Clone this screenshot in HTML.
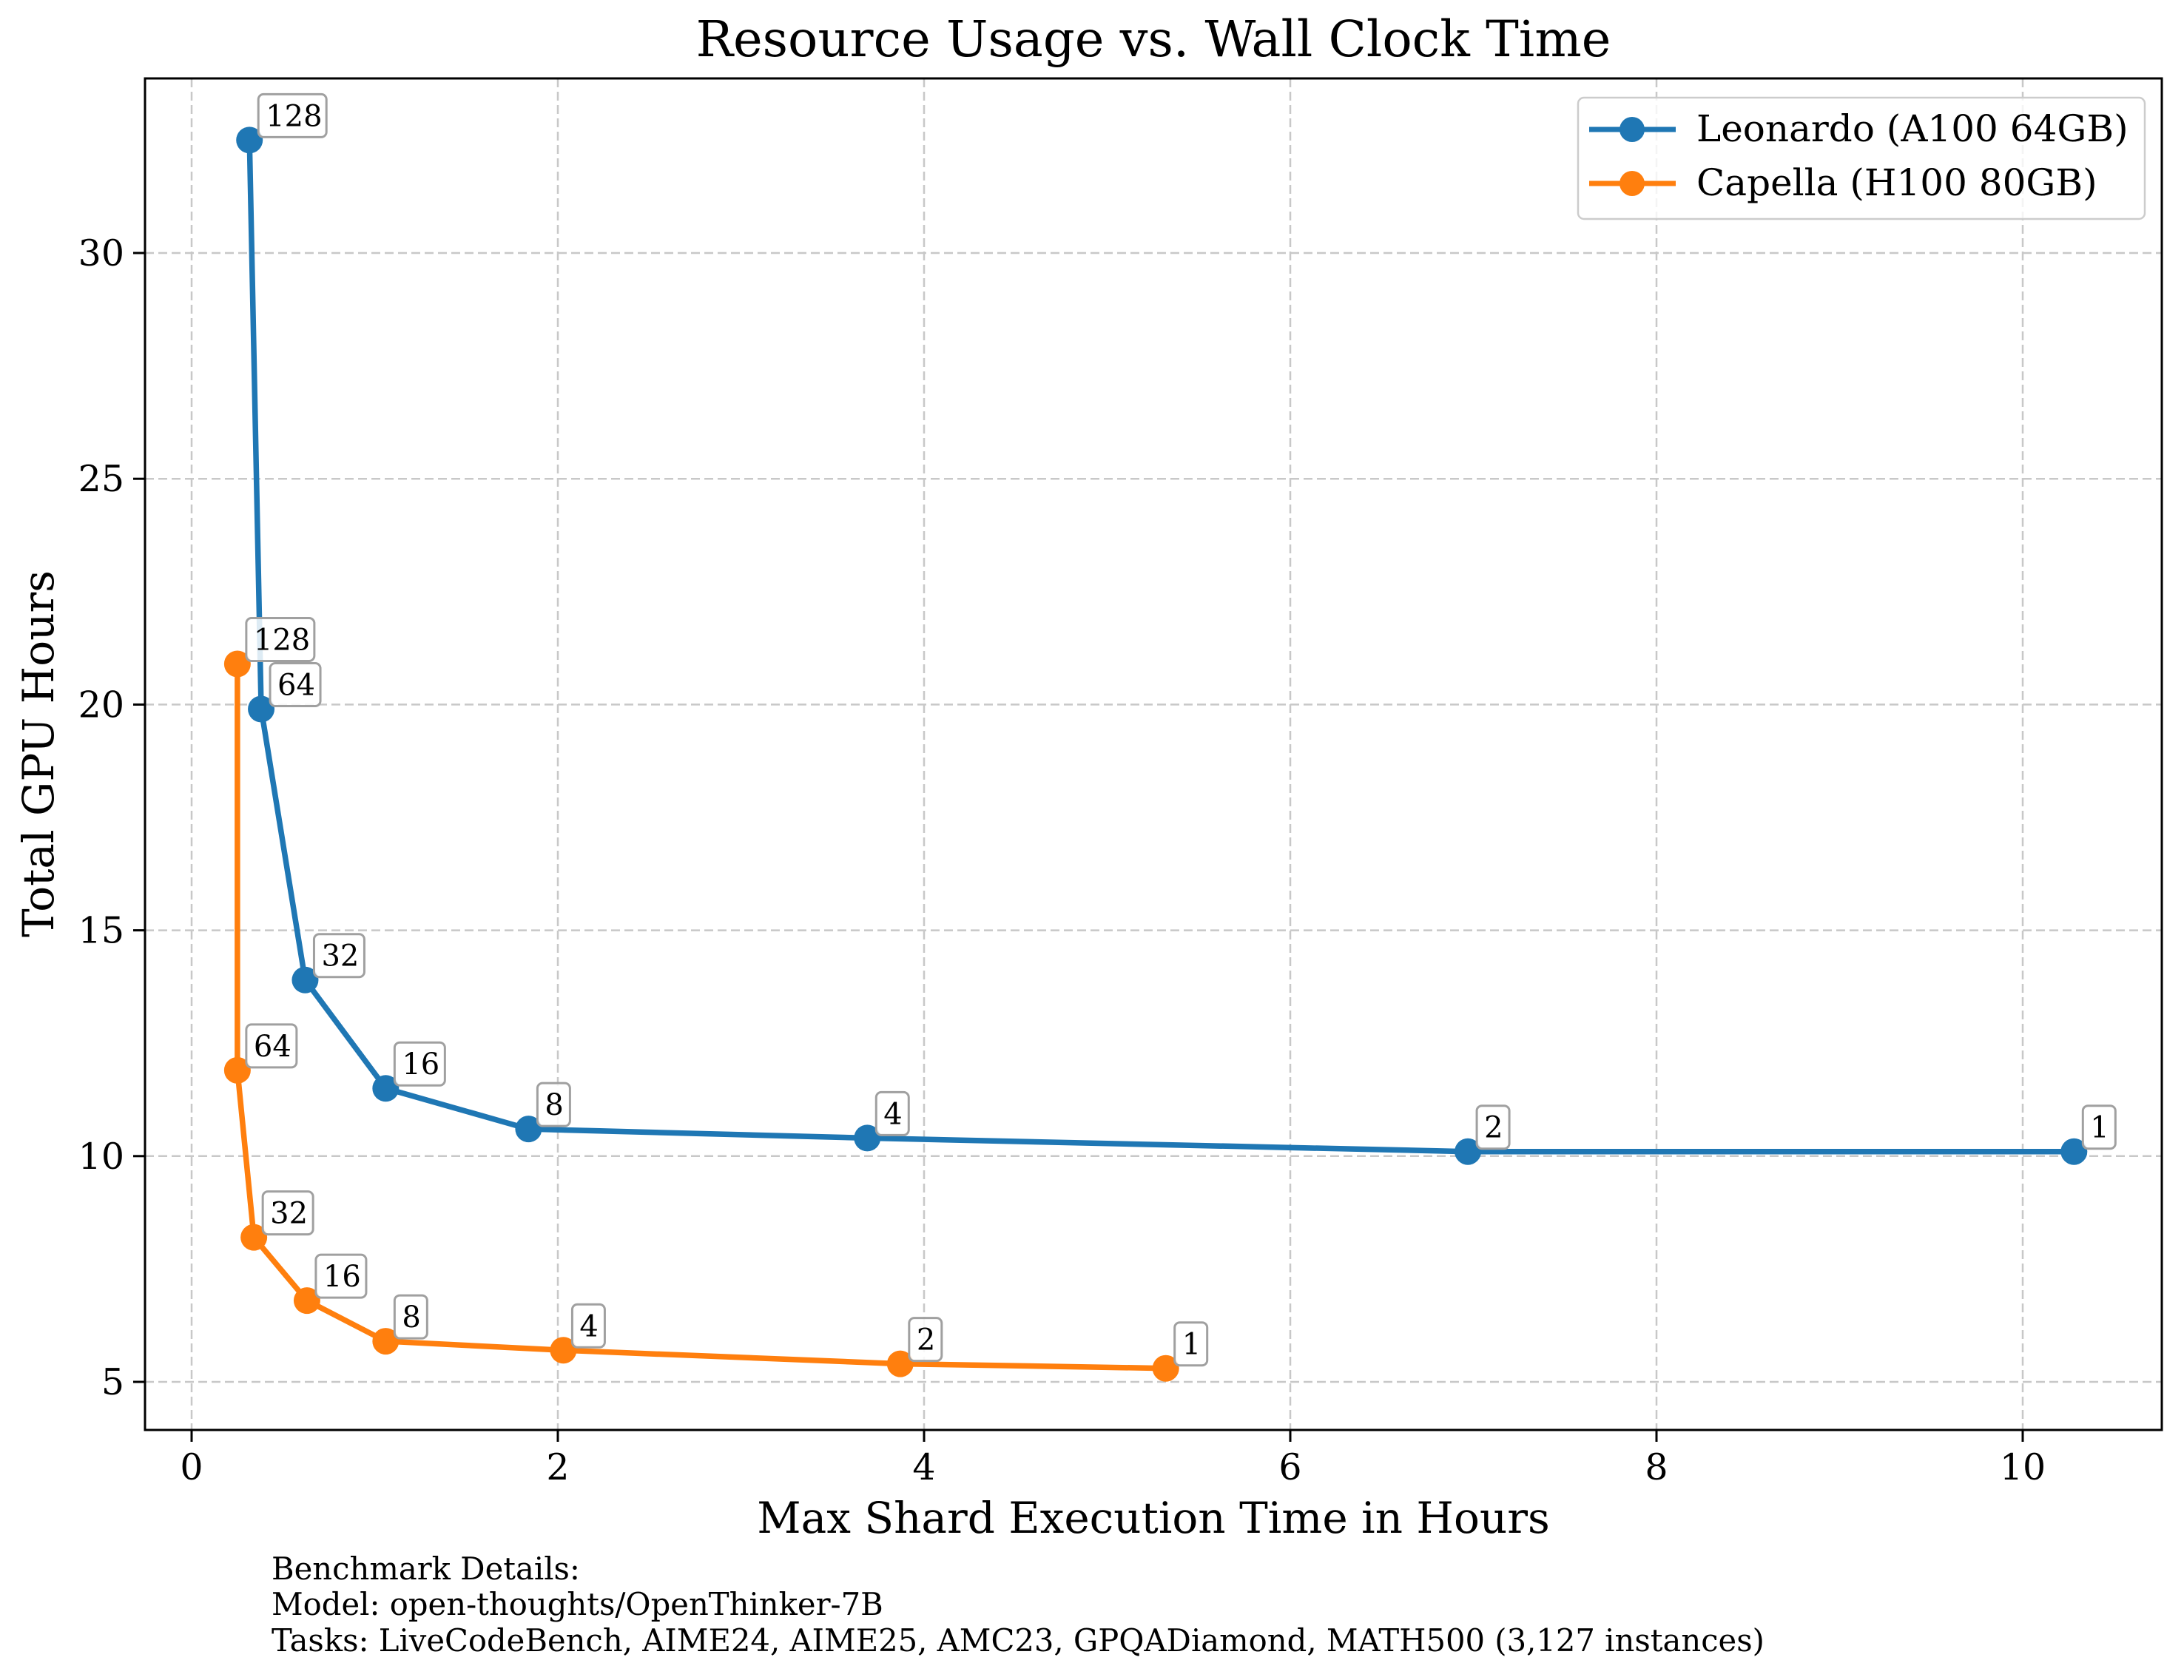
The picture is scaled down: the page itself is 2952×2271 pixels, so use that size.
<!DOCTYPE html>
<html><head><meta charset="utf-8"><style>
html,body{margin:0;padding:0;background:#fff;}
svg{display:block;font-family:"DejaVu Serif","Liberation Serif",serif;}
</style></head><body>
<svg id="chart" width="2952" height="2271" viewBox="0 0 2952 2271" xmlns="http://www.w3.org/2000/svg">
<rect width="2952" height="2271" fill="#fff"/>
<g id="grid"></g>
<g id="series"></g>
<rect x="196" y="106" width="2726" height="1827" fill="none" stroke="#000" stroke-width="3"/>
<g id="ticks"></g>
<text x="1559" y="76" font-size="67" text-anchor="middle">Resource Usage vs. Wall Clock Time</text>
<text x="1559" y="2072" font-size="58" text-anchor="middle">Max Shard Execution Time in Hours</text>
<text x="0" y="0" font-size="58" text-anchor="middle" transform="translate(72,1019) rotate(-90)">Total GPU Hours</text>
<g font-size="41.7">
<text x="367" y="2135">Benchmark Details:</text>
<text x="367" y="2183">Model: open-thoughts/OpenThinker-7B</text>
<text x="367" y="2232">Tasks: LiveCodeBench, AIME24, AIME25, AMC23, GPQADiamond, MATH500 (3,127 instances)</text>
</g>
<g>
<rect x="2133" y="132" width="766" height="164" rx="8" fill="#fff" fill-opacity="0.8" stroke="#ccc" stroke-width="2.5"/>
<g>
<line x1="2148" y1="175" x2="2265" y2="175" stroke="#1f77b4" stroke-width="7"/>
<circle cx="2206" cy="175" r="17" fill="#1f77b4"/>
<text x="2293" y="191" font-size="50">Leonardo (A100 64GB)</text></g>
<g>
<line x1="2148" y1="248" x2="2265" y2="248" stroke="#ff7f0e" stroke-width="7"/>
<circle cx="2206" cy="248" r="17" fill="#ff7f0e"/>
<text x="2293" y="264" font-size="50">Capella (H100 80GB)</text></g>
</g>
</svg>
<script>
const nodeLabels = ["128","64","32","16","8","4","2","1"];
const leoX = [0.316,0.38,0.62,1.06,1.84,3.69,6.97,10.28];
const leoY = [32.5,19.9,13.9,11.5,10.6,10.4,10.1,10.1];
const capX = [0.25,0.25,0.34,0.63,1.06,2.03,3.87,5.32];
const capY = [20.9,11.9,8.2,6.8,5.9,5.7,5.4,5.3];
const xTicks = [0,2,4,6,8,10];
const yTicks = [5,10,15,20,25,30];

const NS="http://www.w3.org/2000/svg";
const xs = v => 259 + v*247.5;
const ys = v => 1868 - (v-5)*61.04;
function mk(tag, attrs, parent){const e=document.createElementNS(NS,tag);for(const k in attrs)e.setAttribute(k,attrs[k]);parent.appendChild(e);return e;}
const grid=document.getElementById('grid'), ticks=document.getElementById('ticks'), series=document.getElementById('series');
xTicks.forEach(t=>{
  const x=xs(t);
  const g=mk('line',{x1:x,y1:106,x2:x,y2:1933,stroke:'#c8c8c8','stroke-width':2.5,'stroke-dasharray':'12,6'},grid);
  
  
  mk('line',{x1:x,y1:1933,x2:x,y2:1949,stroke:'#000','stroke-width':3},ticks);
  const l=mk('text',{x:x,y:2000,'font-size':49,'text-anchor':'middle'},ticks);
  l.textContent=t;
  
  
});
yTicks.forEach(t=>{
  const y=ys(t);
  const g=mk('line',{x1:196,y1:y,x2:2922,y2:y,stroke:'#c8c8c8','stroke-width':2.5,'stroke-dasharray':'12,6'},grid);
  
  
  mk('line',{x1:180,y1:y,x2:196,y2:y,stroke:'#000','stroke-width':3},ticks);
  const l=mk('text',{x:168,y:y+17,'font-size':49,'text-anchor':'end'},ticks);
  l.textContent=t;
  
  
});
function drawSeries(X,Y,color,name){
  const g=mk('g',{},series);
  
  
  const pts=X.map((v,i)=>xs(v)+','+ys(Y[i])).join(' ');
  const pl=mk('polyline',{points:pts,fill:'none',stroke:color,'stroke-width':7.5,'stroke-linejoin':'round'},g);
  
  
  X.forEach((v,i)=>{
    const cx=xs(v), cy=ys(Y[i]);
    const c=mk('circle',{cx:cx,cy:cy,r:18,fill:color},g);
    
    
    const lab=nodeLabels[i];
    const w=24*lab.length+20;
    const b=mk('rect',{x:cx+12,y:cy-62,width:w,height:58,rx:7,fill:'#fff','fill-opacity':0.85,stroke:'#a0a0a0','stroke-width':3},g);
    
    
    const t=mk('text',{x:cx+22,y:cy-19,'font-size':40},g);
    t.textContent=lab;
    
    
  });
}
drawSeries(leoX,leoY,'#1f77b4','leonardo');
drawSeries(capX,capY,'#ff7f0e','capella');
</script>
</body></html>
